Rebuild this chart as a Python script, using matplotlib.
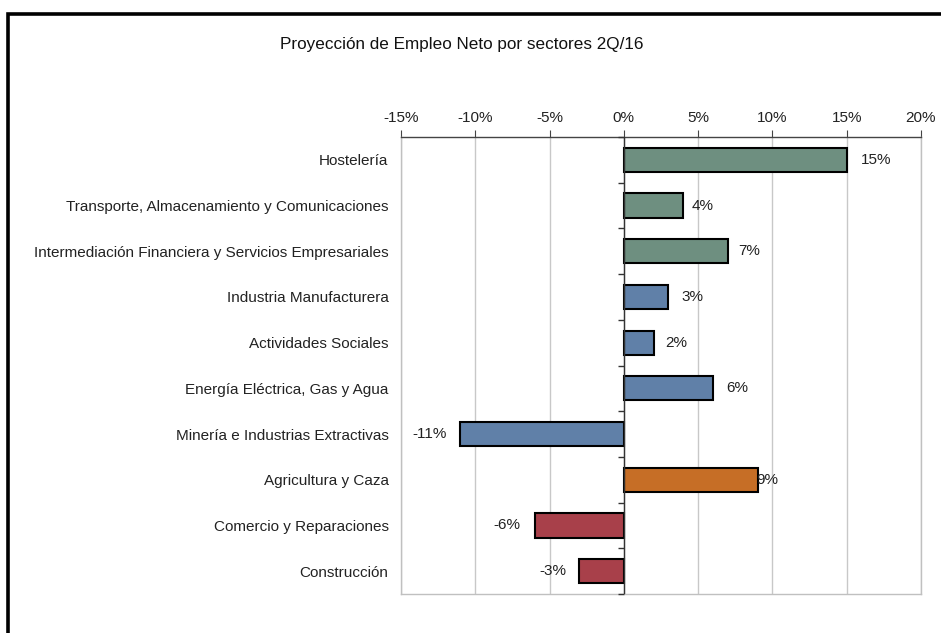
import matplotlib.pyplot as plt
from matplotlib.patches import Rectangle
import numpy as np

plt.rcParams['font.family'] = ['Liberation Sans', 'DejaVu Sans']

# Data
sectores = ['Hostelería',
            'Transporte, Almacenamiento y Comunicaciones',
            'Intermediación Financiera y Servicios Empresariales',
            'Industria Manufacturera',
            'Actividades Sociales',
            'Energía Eléctrica, Gas y Agua',
            'Minería e Industrias Extractivas',
            'Agricultura y Caza',
            'Comercio y Reparaciones',
            'Construcción']
valores = [15, 4, 7, 3, 2, 6, -11, 9, -6, -3]
colores = ['#6e8f80'] * 3 + ['#6080a8'] * 4 + ['#c66e26'] + ['#a8404a'] * 2
ticks_x = [-15, -10, -5, 0, 5, 10, 15, 20]
# label gap from bar end, in pixels
gap_px = [14, 8, 10, 13, 12, 13, 14, -1, 14, 13]

W, H = 941, 633
fig = plt.figure(figsize=(W / 100, H / 100), dpi=100)

# outer chart frame (cut off at right/bottom)
fig.patches.append(Rectangle((8 / W, -0.1), 1.2, 1.1 - 14 / H,
                             transform=fig.transFigure, fill=False,
                             edgecolor='black', linewidth=2.6))

fig.text(462 / W, 1 - 45 / H,
         'Proyección de Empleo Neto por sectores 2Q/16',
         ha='center', va='center', fontsize=12.3, color='#111111')

ax = fig.add_axes([401 / W, 39 / H, 520 / W, (594 - 137) / H])
y = np.arange(len(sectores))
ax.barh(y, valores, height=0.53, color=colores, edgecolor='black', linewidth=1.5, zorder=3)

ax.set_xlim(-15, 20)
ax.set_ylim(len(sectores) - 0.5, -0.5)
ax.set_xticks(ticks_x)
ax.set_xticklabels([f'{t}%' for t in ticks_x], fontsize=11, color='#222222')
ax.xaxis.tick_top()
ax.tick_params(axis='x', direction='out', length=5, width=0.8, color='#444444', pad=4)
ax.grid(axis='x', color='#c8c8c8', linewidth=1, zorder=0)

ax.set_yticks(y)
ax.set_yticklabels(sectores, fontsize=11, color='#222222')
ax.tick_params(axis='y', length=0, pad=9)

for s in ['left', 'right', 'bottom']:
    ax.spines[s].set_color('#c0c0c0')
    ax.spines[s].set_linewidth(1)
ax.spines['top'].set_color('#444444')
ax.spines['top'].set_linewidth(1)

# category axis at zero with ticks between categories
ax.axvline(0, color='#333333', linewidth=1, zorder=4)
bounds = np.arange(len(sectores) + 1) - 0.5
ax.plot(np.zeros(len(bounds)), bounds, ls='none', marker=0, ms=4,
        mew=1, color='#333333', zorder=4, clip_on=False)

for yi, v, g in zip(y, valores, gap_px):
    off = g * 0.72 if v >= 0 else -g * 0.72
    ax.annotate(f'{v}%', (v, yi), xytext=(off, 0), textcoords='offset points',
                ha='left' if v >= 0 else 'right', va='center',
                fontsize=11, color='#222222', zorder=5)

fig.savefig('out.png', dpi=100)
